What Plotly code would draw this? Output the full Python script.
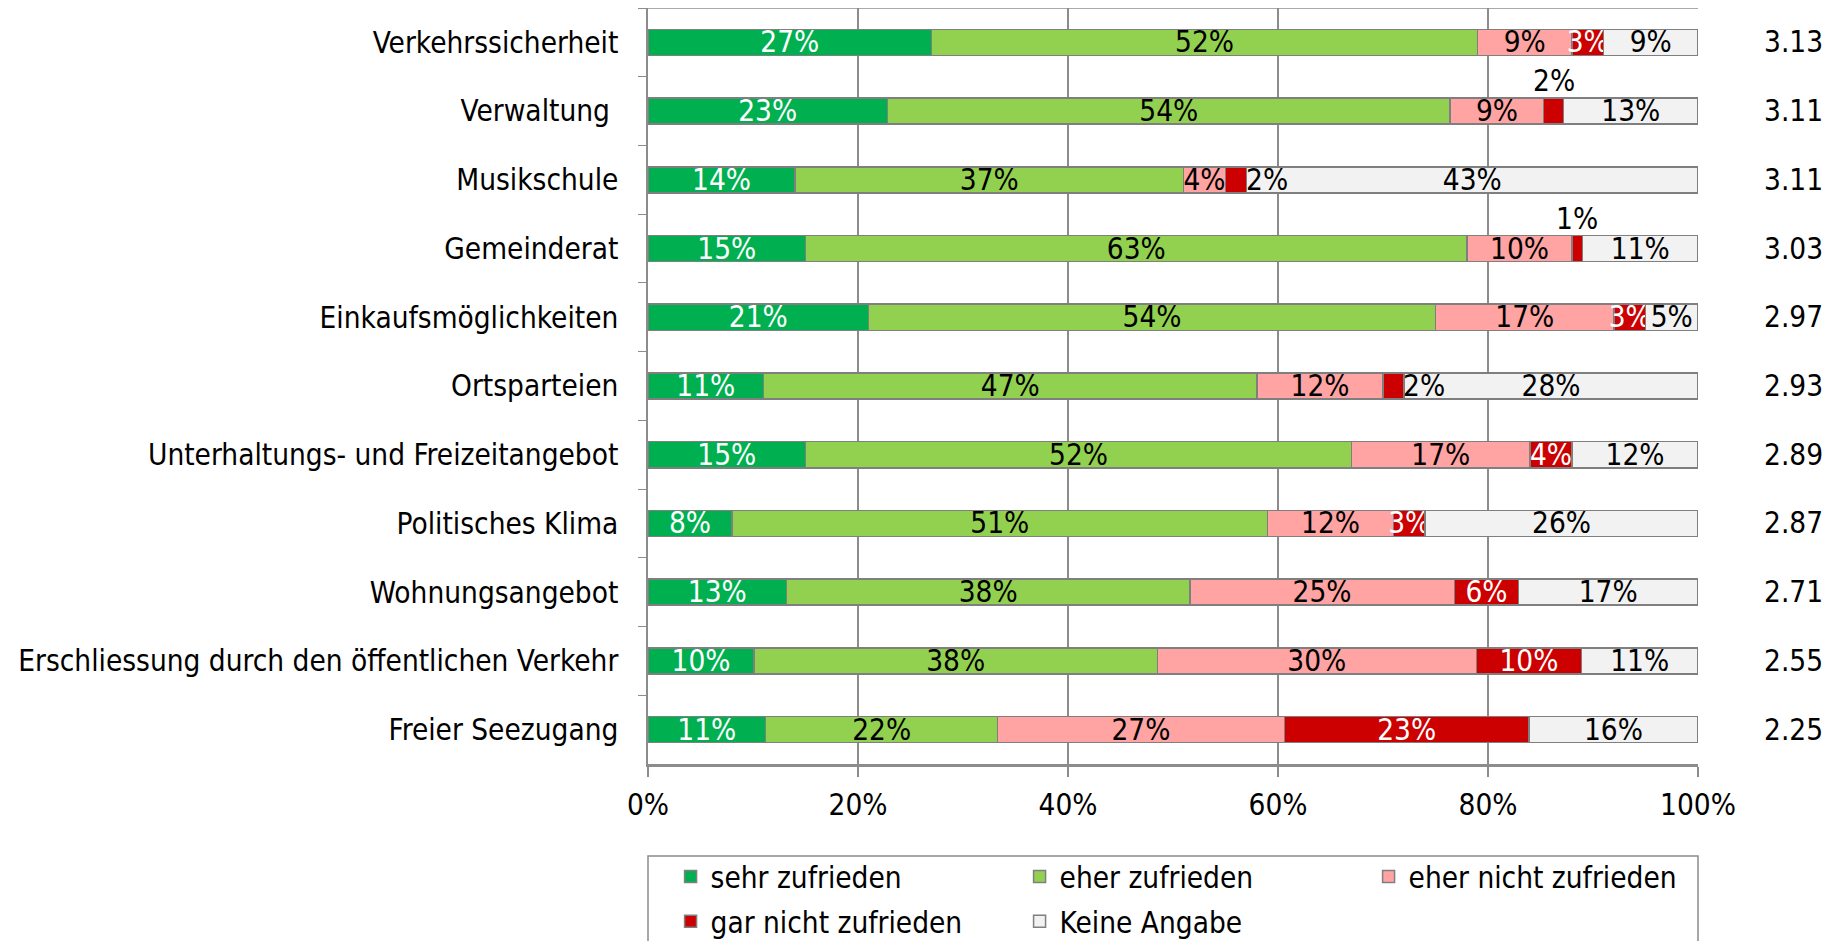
import plotly.graph_objects as go

# categories, top to bottom
categories = ['Verkehrssicherheit', 'Verwaltung\u00a0', 'Musikschule', 'Gemeinderat',
              'Einkaufsmöglichkeiten', 'Ortsparteien', 'Unterhaltungs- und Freizeitangebot',
              'Politisches Klima', 'Wohnungsangebot', 'Erschliessung durch den öffentlichen Verkehr',
              'Freier Seezugang']

sehr_zufrieden = [27, 22.8, 14, 15, 21, 11, 15, 8, 13.2, 10.1, 11.2]
eher_zufrieden = [52, 53.6, 37, 63, 54, 47, 52, 51, 38.4, 38.4, 22.1]
eher_nicht = [9, 8.9, 4, 10, 17, 12, 17, 12, 25.2, 30.4, 27.3]
gar_nicht = [3, 1.9, 2, 1, 3, 2, 4, 3, 6.1, 10.0, 23.3]
keine_angabe = [9, 12.8, 43, 11, 5, 28, 12, 26, 17.1, 11.1, 16.1]

mean_scores = ['3.13', '3.11', '3.11', '3.03', '2.97', '2.93', '2.89', '2.87', '2.71', '2.55', '2.25']

x_ticks = [0, 20, 40, 60, 80, 100]

series = [
    ('sehr zufrieden', sehr_zufrieden, '#00b050', 'white'),
    ('eher zufrieden', eher_zufrieden, '#92d050', 'black'),
    ('eher nicht zufrieden', eher_nicht, '#ffa3a3', 'black'),
    ('gar nicht zufrieden', gar_nicht, '#cc0000', 'white'),
    ('Keine Angabe', keine_angabe, '#f2f2f2', 'black'),
]

# small labels that sit outside their segment: (category index, series index) -> placement
outside = {(1, 3): 'above', (3, 3): 'above', (2, 3): 'right', (5, 3): 'right'}

FONT = 'DejaVu Sans Condensed, Liberation Sans, sans-serif'
FS = 29.5

fig = go.Figure()
for si, (name, vals, col, tcol) in enumerate(series):
    txt = ['' if (ci, si) in outside else f'{v:.0f}%' for ci, v in enumerate(vals)]
    fig.add_trace(go.Bar(y=categories, x=vals, name=name, orientation='h',
                         legend='legend' if si < 3 else 'legend2',
                         marker=dict(color=col, line=dict(color='#7f7f7f', width=1.5)),
                         text=txt, textposition='inside', insidetextanchor='middle', textangle=0,
                         textfont=dict(color=tcol, size=FS, family=FONT), hoverinfo='skip'))

# outside labels, positioned from cumulative values
for (ci, si), where in outside.items():
    start = sum(series[k][1][ci] for k in range(si))
    v = series[si][1][ci]
    if where == 'above':
        fig.add_annotation(x=start + v / 2, y=categories[ci], text=f'{v:.0f}%', showarrow=False,
                           yshift=30, font=dict(size=FS, family=FONT, color='black'))
    else:
        fig.add_annotation(x=start + v, y=categories[ci], text=f'{v:.0f}%', showarrow=False,
                           xanchor='left', xshift=-3, font=dict(size=FS, family=FONT, color='black'))

# mean scores on the right
for c, m in zip(categories, mean_scores):
    fig.add_annotation(x=1.0914, xref='paper', xanchor='center', y=c, text=m, showarrow=False,
                       font=dict(size=FS, family=FONT, color='black'))

# legend frame and top border
fig.add_shape(type='rect', xref='paper', yref='paper', x0=0, x1=1, y0=-0.32, y1=-0.1217,
              line=dict(color='#8c8c8c', width=1.5), fillcolor='rgba(0,0,0,0)')
fig.add_shape(type='line', xref='paper', yref='paper', x0=0, x1=1, y0=1, y1=1,
              line=dict(color='#8c8c8c', width=1.5))

leg = dict(orientation='h', x=0.0215, xanchor='left', yanchor='top', traceorder='normal',
           entrywidth=304, font=dict(size=FS, family=FONT), bgcolor='rgba(0,0,0,0)')

fig.update_layout(
    barmode='stack', bargap=0.62,
    width=1843, height=941,
    margin=dict(l=640, r=153, t=0, b=185, autoexpand=False),
    paper_bgcolor='white', plot_bgcolor='white',
    font=dict(family=FONT, size=FS, color='black'),
    uniformtext=dict(minsize=FS, mode='show'),
    legend=dict(leg, y=-0.115),
    legend2=dict(leg, y=-0.174),
    xaxis=dict(range=[0, 100], tickvals=x_ticks, ticktext=[f'{t}%' for t in x_ticks],
               showgrid=True, gridcolor='#8c8c8c', gridwidth=1.5,
               showline=True, linecolor='#8c8c8c', linewidth=2.5,
               ticks='outside', ticklen=10, tickcolor='#8c8c8c', tickwidth=1.5,
               ticklabelstandoff=3, zeroline=False, fixedrange=True),
    yaxis=dict(categoryorder='array', categoryarray=categories, autorange='reversed',
               showline=True, linecolor='#8c8c8c', linewidth=1.5,
               ticks='outside', tickson='boundaries', ticklen=8, tickcolor='#8c8c8c',
               ticklabelstandoff=22, showgrid=False),
)

fig.write_html('out.html')
